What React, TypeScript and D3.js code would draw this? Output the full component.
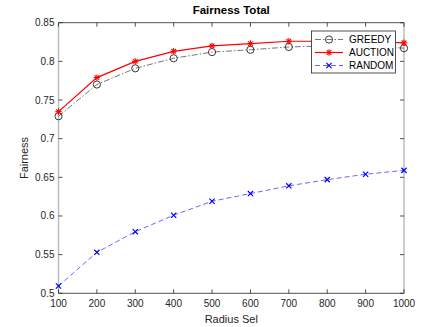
import React from "react";
import * as d3 from "d3";

const radius = [100, 200, 300, 400, 500, 600, 700, 800, 900, 1000];
const greedy = [0.729, 0.770, 0.791, 0.804, 0.812, 0.815, 0.8186, 0.820, 0.8205, 0.817];
const auction = [0.735, 0.779, 0.800, 0.813, 0.820, 0.823, 0.826, 0.826, 0.826, 0.824];
const random = [0.5094, 0.553, 0.5797, 0.601, 0.619, 0.629, 0.639, 0.647, 0.654, 0.659];
const xTicks = [100, 200, 300, 400, 500, 600, 700, 800, 900, 1000];
const yTicks = [0.5, 0.55, 0.6, 0.65, 0.7, 0.75, 0.8, 0.85];
const seriesNames = ["GREEDY", "AUCTION", "RANDOM"];

const W = 425, H = 327;
const L = 58.5, R = 404, T = 22.7, B = 293.3;
const FONT = "'Liberation Sans', Arial, Helvetica, sans-serif";
const AX = "#262626";

function Circle({ x, y, color }: { x: number; y: number; color: string }) {
  return <circle cx={x} cy={y} r={3.6} fill="none" stroke={color} strokeWidth={1} />;
}
function Star({ x, y, color }: { x: number; y: number; color: string }) {
  const s = 3.2, d = s * 0.72;
  return (
    <g stroke={color} strokeWidth={1.1}>
      <line x1={x - s} y1={y} x2={x + s} y2={y} />
      <line x1={x} y1={y - s} x2={x} y2={y + s} />
      <line x1={x - d} y1={y - d} x2={x + d} y2={y + d} />
      <line x1={x - d} y1={y + d} x2={x + d} y2={y - d} />
    </g>
  );
}
function Cross({ x, y, color }: { x: number; y: number; color: string }) {
  const s = 2.6;
  return (
    <g stroke={color} strokeWidth={1.2}>
      <line x1={x - s} y1={y - s} x2={x + s} y2={y + s} />
      <line x1={x - s} y1={y + s} x2={x + s} y2={y - s} />
    </g>
  );
}

export default function App() {
  const x = d3.scaleLinear().domain([100, 1000]).range([L, R]);
  const y = d3.scaleLinear().domain([0.5, 0.85]).range([B, T]);
  const line = (vals: number[]) =>
    d3.line<number>().x((_, i) => x(radius[i])).y((v) => y(v))(vals) || "";

  const series = [
    { name: seriesNames[0], vals: greedy, color: "#3a3a3a", dash: "6,2,1.5,2", width: 0.7, M: Circle },
    { name: seriesNames[1], vals: auction, color: "#ff0000", dash: "", width: 1.2, M: Star },
    { name: seriesNames[2], vals: random, color: "#0000ff", dash: "5,3", width: 0.6, M: Cross },
  ];

  const tk = 4;
  return (
    <svg width={W} height={H} style={{ position: "absolute", left: 0, top: 0, background: "#fff" }} fontFamily={FONT}>
      <rect x={0} y={0} width={W} height={H} fill="#fff" />
      <line x1={L} y1={T} x2={R} y2={T} stroke={AX} strokeWidth={0.8} />
      <line x1={L} y1={B} x2={R} y2={B} stroke={AX} strokeWidth={0.8} />
      <line x1={L} y1={T} x2={L} y2={B} stroke="#b8b8b8" strokeWidth={1.4} />
      <line x1={R} y1={T} x2={R} y2={B} stroke="#b8b8b8" strokeWidth={1.4} />
      {xTicks.map((t) => (
        <g key={"x" + t}>
          <line x1={x(t)} y1={B} x2={x(t)} y2={B - tk} stroke={AX} strokeWidth={0.8} />
          <line x1={x(t)} y1={T} x2={x(t)} y2={T + tk} stroke={AX} strokeWidth={0.8} />
          <text x={x(t)} y={B + 14} textAnchor="middle" fontSize={10} fill={AX}>{t}</text>
        </g>
      ))}
      {yTicks.map((t) => (
        <g key={"y" + t}>
          <line x1={L} y1={y(t)} x2={L + tk} y2={y(t)} stroke={AX} strokeWidth={0.8} />
          <line x1={R} y1={y(t)} x2={R - tk} y2={y(t)} stroke={AX} strokeWidth={0.8} />
          <text x={L - 4} y={y(t) + 3.5} textAnchor="end" fontSize={10} fill={AX}>{String(t)}</text>
        </g>
      ))}
      <text x={(L + R) / 2} y={14} textAnchor="middle" fontSize={11.5} fontWeight="bold" fill="#000">Fairness Total</text>
      <text x={(L + R) / 2} y={323} textAnchor="middle" fontSize={11} fill={AX}>Radius Sel</text>
      <text transform={`translate(28,${(T + B) / 2}) rotate(-90)`} textAnchor="middle" fontSize={11} fill={AX}>Fairness</text>

      {series.map((s) => (
        <g key={s.name}>
          <path d={line(s.vals)} fill="none" stroke={s.color} strokeWidth={s.width} strokeDasharray={s.dash} />
          {s.vals.map((v, i) => <s.M key={i} x={x(radius[i])} y={y(v)} color={s.color} />)}
        </g>
      ))}

      <rect x={311.5} y={31} width={84} height={42} fill="#fff" stroke={AX} strokeWidth={0.8} />
      {series.map((s, i) => {
        const ly = 39.5 + i * 13;
        return (
          <g key={"lg" + s.name}>
            <line x1={315} y1={ly} x2={343} y2={ly} stroke={s.color} strokeWidth={s.width} strokeDasharray={s.dash} />
            <s.M x={329} y={ly} color={s.color} />
            <text x={349} y={ly + 3.5} fontSize={10} fill="#000">{s.name}</text>
          </g>
        );
      })}
    </svg>
  );
}
